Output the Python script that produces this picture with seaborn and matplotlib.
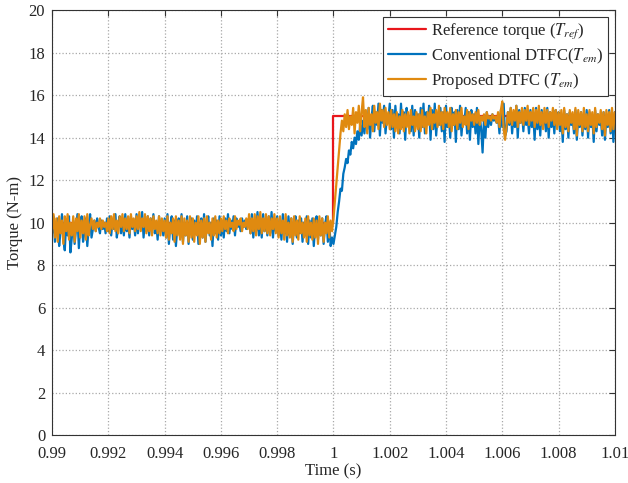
import numpy as np
import matplotlib
matplotlib.use("Agg")
import matplotlib.pyplot as plt
import seaborn as sns

sns.set_style("whitegrid")
plt.rcParams['font.family'] = ['serif']
plt.rcParams['font.serif'] = ['Liberation Serif', 'DejaVu Serif']
plt.rcParams['mathtext.fontset'] = 'stix'

# torque traces, one sample every 0.05 ms, 0.99 s .. 1.01 s
t_start, t_end = 0.99, 1.01

ref_torque = [10.0] * 201 + [15.0] * 200

conv_torque = [
    # 0.990 - 1.000
    9.5, 10.3, 9.1, 9.8, 10.2, 8.9, 9.6, 10.4, 9.2, 8.7, 10.0, 9.4, 10.3, 8.6, 9.3, 10.1, 9.0, 9.7, 10.4, 8.8,
    9.9, 10.3, 9.1, 9.6, 10.2, 8.9, 9.8, 10.4, 9.3, 9.7, 10.1, 9.6, 10.2, 9.8, 9.5, 10.1, 9.7, 10.0, 9.5, 10.2,
    9.6, 10.3, 9.4, 10.1, 9.7, 10.4, 9.3, 9.9, 10.3, 9.5, 10.2, 9.4, 10.4, 9.6, 10.0, 9.3, 10.3, 9.7, 10.1, 9.4,
    10.4, 9.5, 10.2, 9.8, 10.5, 9.3, 10.1, 9.6, 10.3, 9.4, 10.2, 9.7, 10.4, 9.5, 10.0, 9.2, 10.3, 9.6, 10.1, 9.4,
    10.2, 9.3, 10.4, 9.0, 9.9, 10.3, 9.2, 10.1, 8.9, 9.8, 10.2, 9.3, 10.4, 9.1, 10.0, 9.4, 10.3, 9.0, 9.9, 10.2,
    9.2, 10.1, 9.5, 10.3, 9.0, 9.8, 10.2, 9.3, 10.4, 9.1, 9.9, 10.3, 9.4, 10.0, 8.9, 10.2, 9.5, 10.1, 9.2, 10.3,
    9.4, 10.0, 9.3, 10.2, 9.6, 10.4, 9.5, 10.1, 9.7, 10.3, 9.4, 10.2, 9.8, 10.0, 9.6, 10.2, 9.8, 10.1, 9.7, 9.9,
    10.2, 9.5, 10.4, 9.3, 10.1, 9.6, 10.5, 9.4, 10.2, 9.3, 10.4, 9.6, 10.1, 9.4, 10.3, 9.5, 10.5, 9.3, 10.2, 9.6,
    10.3, 9.4, 10.1, 9.2, 10.4, 9.5, 10.0, 9.1, 10.3, 9.4, 10.2, 9.0, 9.9, 10.3, 9.3, 10.1, 9.5, 10.2, 9.1, 10.0,
    9.4, 10.3, 9.0, 10.1, 9.3, 10.2, 8.9, 9.8, 10.3, 9.2, 10.1, 9.4, 10.2, 9.0, 9.9, 10.3, 9.1, 10.0, 8.9, 9.3,
    9.0,
    # 1.000 - 1.010
    9.4, 9.8, 10.5, 11.0, 11.6, 11.5, 12.3, 12.6, 13.0, 12.8, 13.4, 13.2, 13.8, 13.5, 14.0, 13.7, 14.3, 13.9, 14.6, 14.1,
    14.8, 14.2, 15.1, 14.4, 15.4, 14.0, 14.9, 15.5, 14.3, 15.2, 14.6, 15.6, 14.1, 15.3, 14.7, 15.5, 14.2, 15.0, 14.8, 15.6,
    14.4, 15.3, 14.0, 15.5, 14.6, 15.1, 14.2, 15.6, 14.5, 15.2, 13.9, 15.4, 14.7, 15.0, 14.3, 15.5, 14.1, 15.3, 14.6, 15.1,
    14.0, 15.4, 14.5, 15.6, 14.2, 15.2, 14.7, 15.5, 13.9, 15.3, 14.4, 15.6, 14.1, 15.0, 14.6, 15.4, 14.3, 15.2, 13.8, 15.5,
    14.5, 15.1, 14.0, 15.4, 14.6, 15.2, 13.8, 15.3, 14.4, 15.5, 14.1, 15.0, 14.7, 15.4, 14.2, 15.2, 13.9, 15.3, 14.5, 15.1,
    14.2, 15.4, 13.7, 15.0, 14.4, 13.3, 14.9, 14.0, 15.2, 14.5, 15.0, 14.6, 15.1, 14.8, 14.9, 14.7, 15.0, 14.2, 15.3, 14.5,
    15.6, 14.1, 14.3, 15.2, 14.6, 15.4, 14.2, 15.1, 14.5, 15.5, 14.0, 15.3, 14.7, 15.2, 14.3, 15.4, 14.6, 15.0, 14.2, 15.3,
    14.5, 15.1, 13.9, 15.4, 14.4, 15.2, 14.1, 15.3, 14.6, 15.0, 14.3, 15.4, 14.0, 15.2, 14.5, 15.1, 14.2, 15.3, 14.7, 15.2,
    14.3, 15.0, 13.8, 15.3, 14.4, 15.1, 14.0, 15.2, 14.6, 14.9, 14.2, 15.3, 13.9, 15.0, 14.5, 15.2, 14.1, 15.1, 14.4, 15.3,
    14.0, 15.2, 14.5, 15.0, 13.8, 15.3, 14.3, 15.1, 14.6, 14.9, 14.1, 15.2, 13.9, 15.0, 14.5, 15.3, 14.2, 15.1, 13.8, 15.2,
]

prop_torque = [
    # 0.990 - 1.000
    9.7, 10.4, 9.3, 10.2, 9.1, 10.3, 9.5, 10.1, 9.0, 10.3, 9.6, 10.4, 9.2, 10.0, 9.4, 10.3, 9.1, 10.2, 9.6, 10.4,
    9.3, 10.1, 9.5, 10.3, 9.2, 10.4, 9.4, 9.9, 10.2, 9.7, 10.1, 9.6, 10.0, 9.8, 10.2, 9.7, 10.1, 9.8, 10.0, 9.6,
    10.2, 9.5, 10.3, 9.7, 10.4, 9.6, 10.1, 9.5, 10.3, 9.8, 10.4, 9.6, 10.2, 9.7, 10.3, 9.5, 10.4, 9.8, 10.2, 9.6,
    10.3, 9.7, 10.5, 9.6, 10.2, 9.8, 10.4, 9.5, 10.3, 9.6, 10.2, 9.4, 10.3, 9.7, 10.1, 9.5, 10.3, 9.4, 10.2, 9.6,
    10.1, 9.3, 10.3, 9.2, 10.0, 9.5, 10.2, 9.1, 10.3, 9.4, 10.1, 9.2, 10.3, 9.0, 10.2, 9.4, 10.1, 9.1, 10.3, 9.3,
    10.2, 9.1, 10.0, 9.4, 10.3, 9.0, 10.1, 9.3, 10.2, 9.1, 10.3, 9.5, 10.0, 9.2, 10.2, 9.4, 10.3, 9.3, 10.1, 9.5,
    10.2, 9.6, 10.3, 9.7, 10.1, 9.5, 10.2, 9.8, 10.0, 9.6, 10.3, 9.7, 10.1, 9.9, 10.2, 9.6, 10.0, 9.8, 10.2, 9.7,
    10.4, 9.5, 10.2, 9.6, 10.4, 9.4, 10.3, 9.7, 10.5, 9.5, 10.2, 9.6, 10.4, 9.5, 10.3, 9.4, 10.2, 9.7, 10.4, 9.5,
    10.2, 9.3, 10.3, 9.5, 10.1, 9.2, 10.4, 9.4, 10.0, 9.3, 10.2, 9.1, 10.3, 9.4, 10.1, 9.2, 10.3, 9.5, 10.0, 9.3,
    10.2, 9.1, 10.3, 9.4, 10.0, 9.2, 10.2, 9.3, 10.1, 9.0, 10.3, 9.4, 10.2, 9.1, 10.0, 9.5, 10.3, 9.3, 10.1, 9.6,
    10.2,
    # 1.000 - 1.010
    11.0, 11.8, 12.6, 13.4, 14.2, 14.8, 14.3, 15.1, 14.5, 15.3, 14.4, 15.0, 14.6, 15.4, 14.2, 15.2, 14.7, 15.5, 14.3, 15.2,
    15.9, 14.5, 15.3, 14.2, 15.4, 14.6, 15.1, 14.3, 15.5, 14.7, 15.2, 14.4, 15.6, 14.8, 15.3, 14.5, 15.4, 14.6, 15.2, 14.4,
    15.3, 14.5, 15.1, 14.3, 15.2, 14.2, 15.0, 14.4, 15.3, 14.3, 15.1, 14.5, 15.2, 14.2, 15.3, 14.6, 15.0, 14.3, 15.2, 14.4,
    15.1, 14.3, 15.3, 14.5, 15.0, 14.2, 15.2, 14.6, 15.4, 14.4, 15.1, 14.7, 15.3, 14.5, 15.5, 14.6, 15.2, 14.4, 15.4, 14.7,
    15.2, 14.5, 15.4, 14.3, 15.1, 14.6, 15.3, 14.4, 15.2, 14.7, 15.4, 14.5, 15.0, 14.6, 15.3, 14.4, 15.2, 14.8, 15.1, 14.6,
    15.2, 14.7, 15.3, 14.6, 15.0, 14.8, 15.1, 14.6, 15.2, 14.9, 15.0, 14.8, 15.1, 14.9, 15.0, 14.7, 15.2, 14.5, 15.3, 15.7,
    14.4, 13.9, 14.5, 15.2, 14.7, 15.4, 14.6, 15.3, 14.8, 15.5, 14.5, 15.2, 14.7, 15.4, 14.6, 15.3, 14.8, 15.5, 14.6, 15.2,
    14.8, 15.4, 14.5, 15.3, 14.7, 15.5, 14.6, 15.2, 14.4, 15.4, 14.7, 15.3, 14.5, 15.2, 14.8, 15.4, 14.6, 15.3, 14.4, 15.2,
    14.6, 15.3, 14.2, 15.4, 14.5, 15.1, 14.3, 15.3, 14.7, 15.2, 14.4, 15.4, 14.1, 15.3, 14.6, 15.2, 14.3, 15.4, 14.5, 15.1,
    14.3, 15.3, 14.6, 15.2, 14.2, 15.4, 14.5, 15.1, 14.7, 15.3, 14.4, 15.2, 14.1, 15.3, 14.6, 15.2, 14.3, 15.4, 14.4, 15.2,
]

time = np.linspace(t_start, t_end, len(ref_torque))

labels = ['Reference torque ($T_{ref}$)',
          'Conventional DTFC($T_{em}$)',
          'Proposed DTFC ($T_{em}$)']
colors = ['#E8161B', '#0072BD', '#E08A10']

fig, ax = plt.subplots(figsize=(6.28, 4.83), dpi=100)
fig.subplots_adjust(left=0.083, right=0.979, top=0.979, bottom=0.099)

# reference switches to 15 N-m exactly at t = 1 s
sns.lineplot(x=time, y=ref_torque, ax=ax, color=colors[0], lw=1.6,
             label=labels[0], estimator=None, drawstyle='steps-pre')
sns.lineplot(x=time, y=conv_torque, ax=ax, color=colors[1], lw=1.6,
             label=labels[1], estimator=None)
sns.lineplot(x=time, y=prop_torque, ax=ax, color=colors[2], lw=1.6,
             label=labels[2], estimator=None)

ax.set_xlim(0.99, 1.01)
ax.set_ylim(0, 20)
ax.set_xticks(np.linspace(0.99, 1.01, 11))
ax.set_xticklabels(['0.99', '0.992', '0.994', '0.996', '0.998', '1',
                    '1.002', '1.004', '1.006', '1.008', '1.01'])
ax.set_yticks(range(0, 21, 2))
ax.tick_params(labelsize=12, direction='in', length=4, top=True, right=True,
               color='#333333')
ax.tick_params(axis='x', pad=8)
ax.tick_params(axis='y', pad=5)
ax.set_xlabel('Time (s)', fontsize=12, labelpad=1)
ax.set_ylabel('Torque (N-m)', fontsize=12, labelpad=4)

ax.grid(True, linestyle=':', color='#a8a8a8', lw=0.9)
for s in ax.spines.values():
    s.set_color('#333333')
    s.set_linewidth(0.8)

leg = ax.legend(loc='upper right', fontsize=12, frameon=True, fancybox=False,
                borderaxespad=0.4, handlelength=2.3, handletextpad=0.3,
                labelspacing=0.3, borderpad=0.3)
leg.get_frame().set_edgecolor('#333333')
leg.get_frame().set_linewidth(0.8)
leg.get_frame().set_alpha(1.0)

fig.savefig('out.png', dpi=100)
